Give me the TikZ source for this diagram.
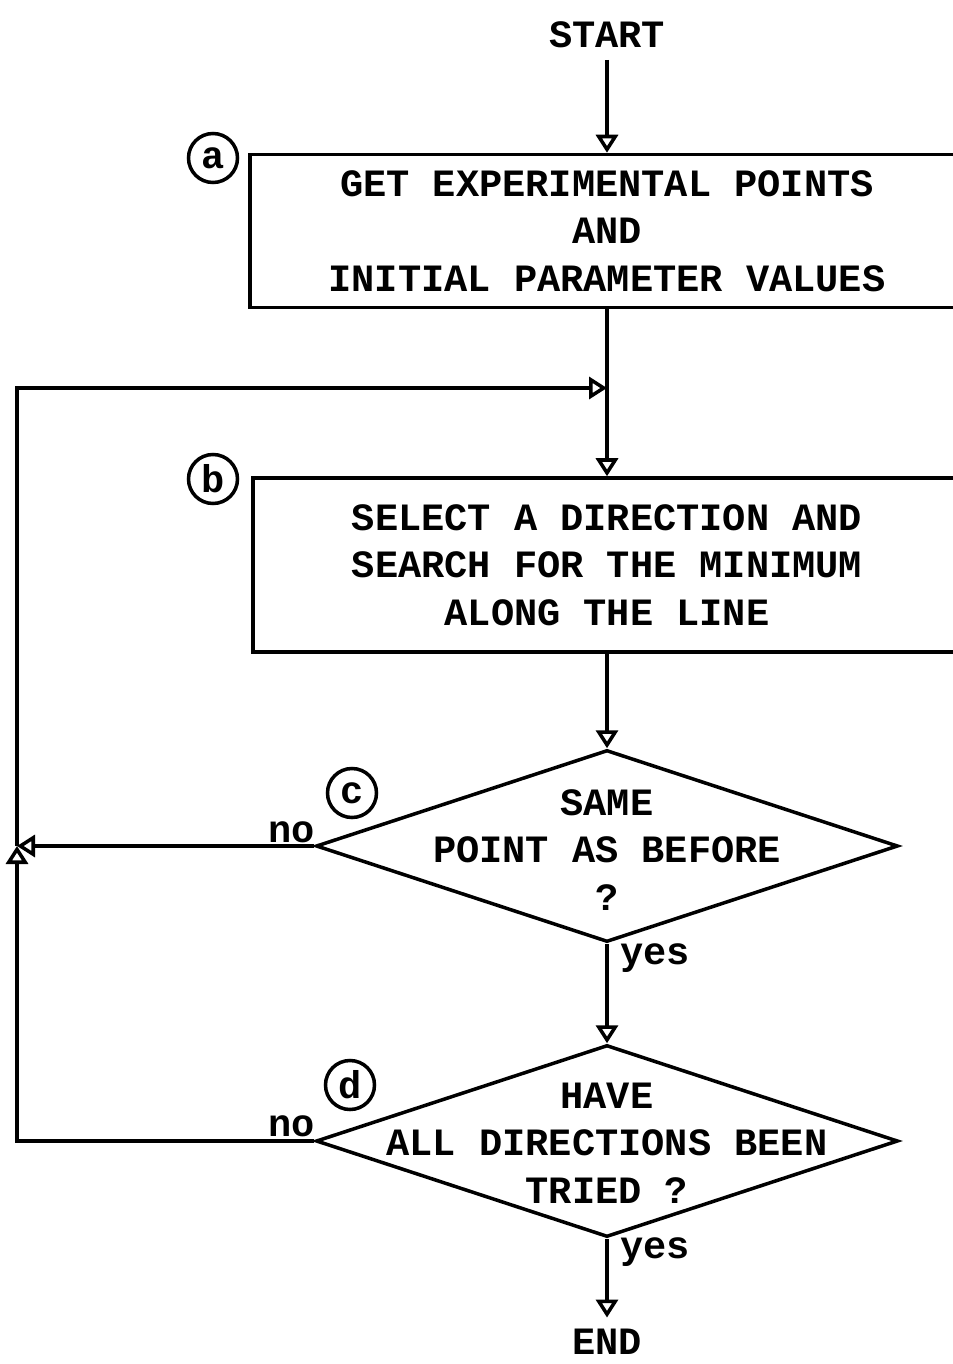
\documentclass[tikz,border=0pt]{standalone}
\usepackage{fontspec}
\newfontfamily\plotfont{Liberation Mono}
\usepackage{tikz}
\usetikzlibrary{shapes.geometric,arrows.meta,calc,positioning}

\begin{document}
\begin{tikzpicture}[x=0.1mm,y=-0.1mm,line width=1pt,
    txt/.style={font=\plotfont\bfseries\fontsize{11}{13.5}\selectfont,align=center,inner sep=1mm},
    stepbox/.style={txt,draw,rectangle,inner sep=0pt},
    decision/.style={draw,diamond,inner sep=0pt,minimum width=58.2mm,minimum height=19.2mm},
    tag/.style={txt,draw,circle,inner sep=0pt,minimum size=4.9mm},
    arr/.style={-{Triangle[open,length=1.8mm,width=2.2mm]}}]
            \useasboundingbox (0,0) rectangle (953,1364);
            \clip (0,0) rectangle (953,1364);
            % Start and end
            \node[txt] (start) at (607,35) {START};
            \node[txt] (end) at (607,1342) {END};
            % Process boxes
            \node[stepbox,minimum width=71.4mm,minimum height=15.3mm] (get) at (607,231) {GET EXPERIMENTAL POINTS\\AND\\INITIAL PARAMETER VALUES};
            \node[stepbox,minimum width=70.8mm,minimum height=17.4mm] (select) at (607,565) {SELECT A DIRECTION AND\\SEARCH FOR THE MINIMUM\\ALONG THE LINE};
            % Decisions
            \node[decision] (same) at (607,846) {};
            \node[txt] (sametxt) at (607,850) {SAME\\POINT AS BEFORE\\?};
            \node[decision] (tried) at (607,1141) {};
            \node[txt] (triedtxt) at (607,1143) {HAVE\\ALL DIRECTIONS BEEN\\TRIED ?};
            % Step letters
            \node[tag] (la) at (213,158) {a};
            \node[tag] (lb) at (213,479) {b};
            \node[tag] (lc) at (352,793) {c};
            \node[tag] (ld) at (350,1085) {d};
            % Branch labels
            \node[txt] (no1) at (292,832) {no};
            \node[txt] (no2) at (292,1126) {no};
            \node[txt] (yes1) at (655,958) {yes};
            \node[txt] (yes2) at (655,1252) {yes};
            % Flow
            \coordinate (jn) at (17,846);
            \coordinate (mg) at (607,388);
            \draw[arr] (start) -- (get);
            \draw (get) -- (mg);
            \draw[arr] (mg) -- (select);
            \draw[arr] (select) -- (same.north);
            \draw[arr] (same.south) -- (tried.north);
            \draw[arr] (tried.south) -- (end);
            \draw[arr] (same.west) -- (jn);
            \draw[arr] (tried.west) -| (jn);
            \draw[arr] (jn) |- (mg);
          \end{tikzpicture}
\end{document}
